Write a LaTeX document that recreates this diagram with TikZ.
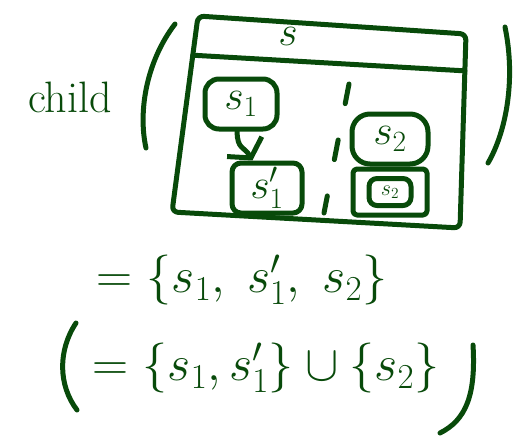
\RequirePackage{fix-cm}
\documentclass[tikz,border=0pt]{standalone}
\usepackage{amsmath}
\usetikzlibrary{calc, arrows.meta}
\usetikzlibrary{positioning}
\definecolor{ink}{RGB}{8,74,10}
\tikzset{
  pen/.style={draw=ink, line width=5pt, line cap=round, line join=round},
  scrawl/.style={text=ink, font=\fontsize{50}{54}\selectfont},
  statebox/.style={pen, text=ink, rounded corners=14pt, inner sep=0pt,
    font=\fontsize{42}{46}\selectfont},
  barb/.style={-{Straight Barb[length=13pt, width=40pt]}},
}
\begin{document}
\begin{tikzpicture}[x=1pt, y=-1pt]
    \useasboundingbox (0,0) rectangle (519,437);
    % the state s with its header
    \coordinate (TL) at (198,16);
    \coordinate (TR) at (466,34);
    \coordinate (BR) at (460,228);
    \coordinate (BL) at (172,212);
    \draw[pen, rounded corners=6pt] (TL) -- (TR) -- (BR) -- (BL) -- cycle;
    \draw[pen] ($(TL)!0.2!(BL)$) -- ($(TR)!0.19!(BR)$);
    \node[scrawl, font=\fontsize{42}{46}\selectfont] (S) at (288,36) {$s$};
    \node[scrawl, font=\fontsize{44}{48}\selectfont] (child) at (70,97) {child};
    \draw[pen] (175,24) .. controls (146,62) and (138,112) .. (146,148);
    \draw[pen] (505,27) .. controls (516,80) and (506,132) .. (488,163);
    % left region
    \node[statebox, minimum width=72pt, minimum height=50pt] (sA) at (241,104) {$s_1$};
    \node[statebox, rounded corners=9pt, minimum width=70pt, minimum height=50pt] (sAp) at (267,188) {$s_1'$};
    \draw[pen, barb] (sA.262) .. controls +(0,18) and +(-8,-14) .. (sAp.118);
    % region border
    \coordinate (dTop) at (349,84);
    \coordinate (dBot) at (324,213);
    \draw[pen, dash pattern=on 20pt off 37pt] (dTop) -- (dBot);
    % right region
    \node[statebox, rounded corners=18pt, minimum width=76pt, minimum height=50pt] (sB) at (390,139) {$s_2$};
    \node[statebox, rounded corners=4pt, minimum width=74pt, minimum height=46pt, below=0pt of sB] (sBc) {};
    \node[statebox, rounded corners=8pt, font=\fontsize{22}{24}\selectfont,
      minimum width=42pt, minimum height=27pt] (sBi) at (sBc) {$s_2$};
    % the resulting set
    \node[scrawl] (eqA) at (242,280) {$=\{s_1,\; s_1',\; s_2\}$};
    \node[scrawl] (eqB) at (266,368) {$=\{s_1, s_1'\}\cup\{s_2\}$};
    \draw[pen] (76,323) .. controls (58,350) and (58,385) .. (77,410);
    \draw[pen] (473,345) .. controls (476,395) and (466,420) .. (440,433);
\end{tikzpicture}
\end{document}
